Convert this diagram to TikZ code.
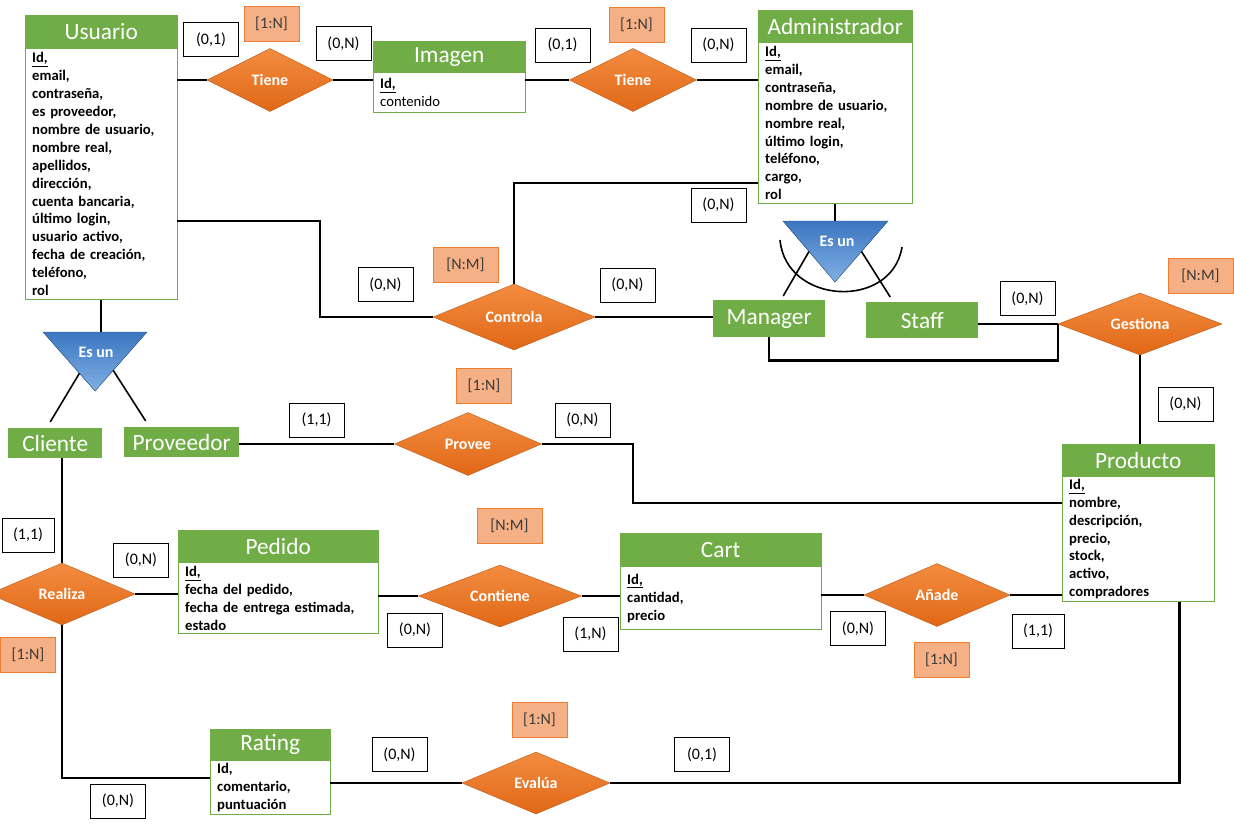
\documentclass[tikz,border=0pt]{standalone}
\usepackage{fontspec}
\setmainfont{Carlito}
\usepackage{tikz}
\usetikzlibrary{shapes.geometric}
\usetikzlibrary{positioning}
\usetikzlibrary{calc}

\definecolor{verde}{RGB}{112,173,71}
\definecolor{naranjaSup}{RGB}{243,140,64}
\definecolor{naranjaInf}{RGB}{224,104,22}
\definecolor{naranjaBorde}{RGB}{190,88,20}
\definecolor{azulSup}{RGB}{60,118,192}
\definecolor{azulInf}{RGB}{128,176,228}
\definecolor{azulBorde}{RGB}{48,90,145}
\definecolor{salmon}{RGB}{245,176,134}
\definecolor{salmonBorde}{RGB}{237,125,49}
\definecolor{gris}{RGB}{60,60,60}

\newcommand{\fuenteAtr}{\fontsize{14.67}{17.9}\selectfont\bfseries}
\newcommand{\fuenteTit}{\fontsize{23.3}{28}\selectfont}
\newcommand{\fuenteRel}{\fontsize{16}{19}\selectfont\bfseries}
\newcommand{\fuenteCard}{\fontsize{16}{19}\selectfont}

\tikzset{
  entidad/.style={draw=verde, fill=verde, text=white, font=\fuenteTit, minimum width=#1, inner sep=0pt, anchor=north west},
  atributos/.style={draw=verde, fill=white, font=\fuenteAtr, align=left, text width=#1, inner xsep=7pt, inner ysep=0pt},
  simple/.style={fill=verde, text=white, font=\fuenteTit, inner sep=0pt, anchor=north west},
  relacion/.style={diamond, aspect=2, draw=naranjaBorde, top color=naranjaSup, bottom color=naranjaInf, text=white, font=\fuenteRel, inner sep=0pt},
  card/.style={draw=black, fill=white, font=\fuenteCard, minimum width=55pt, minimum height=34pt, inner sep=0pt},
  tipo/.style={draw=salmonBorde, fill=salmon, text=gris, font=\fuenteCard, minimum width=#1, minimum height=35pt, inner sep=0pt},
  tipo/.default=55pt,
  linea/.style={line width=2.2pt},
  esun/.style={draw=azulBorde, top color=azulSup, bottom color=azulInf},
  arco/.style={line width=1.6pt},
}

\begin{document}
\begin{tikzpicture}[x=1pt,y=-1pt]
  \fill[white] (0,0) rectangle (1234,835);
  \useasboundingbox (0,0) rectangle (1234,835);
  % entidades
  \node[entidad=152pt, minimum height=33pt] (usuario) at (25,15) {Usuario};
  \node[atributos=138pt, minimum height=251pt, below=0pt of usuario] (usuario-a) {\underline{Id,}\\email,\\contraseña,\\es proveedor,\\nombre de usuario,\\nombre real,\\apellidos,\\dirección,\\cuenta bancaria,\\último login,\\usuario activo,\\fecha de creación,\\teléfono,\\rol};
  \node[entidad=152pt, minimum height=31pt] (imagen) at (373,41) {Imagen};
  \node[atributos=138pt, minimum height=40pt, below=0pt of imagen] (imagen-a) {\underline{Id,}\\{\mdseries contenido}};
  \node[entidad=154pt, minimum height=32pt] (admin) at (758,10) {Administrador};
  \node[atributos=140pt, minimum height=161pt, below=0pt of admin] (admin-a) {\underline{Id,}\\email,\\contraseña,\\nombre de usuario,\\nombre real,\\último login,\\teléfono,\\cargo,\\rol};
  \node[entidad=152pt, minimum height=32pt] (producto) at (1062,444) {Producto};
  \node[atributos=138pt, minimum height=125pt, below=0pt of producto] (producto-a) {\underline{Id,}\\nombre,\\descripción,\\precio,\\stock,\\activo,\\compradores};
  \node[entidad=200pt, minimum height=32pt] (pedido) at (178,530) {Pedido};
  \node[atributos=186pt, minimum height=71pt, below=0pt of pedido] (pedido-a) {\underline{Id,}\\fecha del pedido,\\fecha de entrega estimada,\\estado};
  \node[entidad=201pt, minimum height=33pt] (cart) at (620,533) {Cart};
  \node[atributos=187pt, minimum height=63pt, below=0pt of cart] (cart-a) {\underline{Id,}\\cantidad,\\precio};
  \node[entidad=120pt, minimum height=31pt] (rating) at (210,729) {Rating};
  \node[atributos=106pt, minimum height=54pt, below=0pt of rating] (rating-a) {Id,\\comentario,\\puntuación};
  % subtipos
  \node[simple, minimum width=112pt, minimum height=37pt] (manager) at (713,300) {Manager};
  \node[simple, minimum width=112pt, minimum height=36pt] (staff) at (866,302) {Staff};
  \node[simple, minimum width=94pt, minimum height=30pt] (cliente) at (8,428) {Cliente};
  \node[simple, minimum width=115pt, minimum height=30pt] (proveedor) at (124,427) {Proveedor};
  % relaciones
  \node[relacion, minimum width=126pt, minimum height=63pt] (tiene1) at (270,80) {Tiene};
  \node[relacion, minimum width=127pt, minimum height=63pt] (tiene2) at (633,80) {Tiene};
  \node[relacion, minimum width=162pt, minimum height=66pt] (controla) at (514,317) {Controla};
  \node[relacion, minimum width=164pt, minimum height=62pt] (gestiona) at (1140,324) {Gestiona};
  \node[relacion, minimum width=147pt, minimum height=63pt] (provee) at (468,444) {Provee};
  \node[relacion, minimum width=163pt, minimum height=62pt] (contiene) at (500,596) {Contiene};
  \node[relacion, minimum width=146pt, minimum height=63pt] (anade) at (937,595) {Añade};
  \node[relacion, minimum width=146pt, minimum height=62pt] (realiza) at (62,594) {Realiza};
  \node[relacion, minimum width=148pt, minimum height=62pt] (evalua) at (536,783) {Evalúa};
  % es un (administrador)
  \coordinate (t1a) at (783,221);
  \coordinate (t1b) at (888,221);
  \coordinate (t1c) at (835,282);
  \filldraw[esun] (t1a) -- (t1b) -- (t1c) -- cycle;
  \node[font=\fuenteRel, text=white] (esun1) at (837,241) {Es un};
  \draw[arco] (780,240) .. controls (786,305) and (892,310) .. (902,247);
  % es un (usuario)
  \coordinate (t2a) at (43,332);
  \coordinate (t2b) at (147,332);
  \coordinate (t2c) at (95,391);
  \filldraw[esun] (t2a) -- (t2b) -- (t2c) -- cycle;
  \node[font=\fuenteRel, text=white] (esun2) at (96,352) {Es un};
  % conectores
  \draw[linea] (usuario-a.east |- tiene1.west) -- (tiene1.west);
  \draw[linea] (tiene1.east) -- (tiene1.east -| imagen-a.west);
  \draw[linea] (imagen-a.east |- tiene2.west) -- (tiene2.west);
  \draw[linea] (tiene2.east) -- (tiene2.east -| admin-a.west);
  \draw[linea] ([yshift=21pt]admin-a.south west) -| (controla.north);
  \draw[linea] ([yshift=79pt]usuario-a.south east) -| ([xshift=-113pt]controla.west) -- (controla.west);
  \draw[linea] (controla.east) -- (controla.east -| manager.west);
  \draw[linea] (manager.south) -- ++(0,23) -| (gestiona.west);
  \draw[linea] (staff.east |- gestiona.west) -- (gestiona.west);
  \draw[linea] (gestiona.south) -- (gestiona.south |- producto.north);
  \draw[linea] (admin-a.south) -- (admin-a.south |- t1a);
  \draw[linea] (usuario-a.south) -- (usuario-a.south |- t2a);
  \draw[arco] ($(t1a)!0.5!(t1c)$) -- ([xshift=14pt,yshift=4pt]manager.north);
  \draw[arco] ($(t1b)!0.5!(t1c)$) -- ([xshift=-32pt,yshift=5pt]staff.north);
  \draw[arco] ($(t2a)!0.7!(t2c)$) -- ([xshift=-5pt,yshift=6pt]cliente.north);
  \draw[arco] ($(t2b)!0.65!(t2c)$) -- ([xshift=-36pt,yshift=6pt]proveedor.north);
  \draw[linea] (proveedor.east |- provee.west) -- (provee.west);
  \draw[linea] (provee.east) -- ++(91,0) |- ([yshift=99pt]producto-a.south west);
  \draw[linea] (realiza.north |- cliente.south) -- (realiza.north);
  \draw[linea] (realiza.east) -- (realiza.east -| pedido-a.west);
  \draw[linea] (pedido-a.east |- contiene.west) -- (contiene.west);
  \draw[linea] (contiene.east) -- (contiene.east -| cart-a.west);
  \draw[linea] (cart-a.east |- anade.west) -- (anade.west);
  \draw[linea] (anade.east) -- (anade.east -| producto-a.west);
  \draw[linea] (realiza.south) |- ([yshift=37pt]rating-a.south west);
  \draw[linea] (rating-a.east |- evalua.west) -- (evalua.west);
  \draw[linea] (evalua.east) -| ([xshift=-35pt]producto-a.south east);
  % cardinalidades
  \node[card] (c-tiene1-u) at (211,39.5) {(0,1)};
  \node[tipo] (t-tiene1) at (271.5,23.5) {[1:N]};
  \node[card] (c-tiene1-i) at (343.5,43.5) {(0,N)};
  \node[card] (c-tiene2-i) at (562.5,45) {(0,1)};
  \node[tipo] (t-tiene2) at (636.5,24.5) {[1:N]};
  \node[card] (c-tiene2-a) at (718.5,45) {(0,N)};
  \node[card] (c-controla-a) at (718.5,205) {(0,N)};
  \node[tipo=65pt] (t-controla) at (465.5,264.5) {[N:M]};
  \node[card] (c-controla-m) at (627.5,285) {(0,N)};
  \node[card] (c-controla-u) at (385.5,284.5) {(0,N)};
  \node[card] (c-gestiona-s) at (1027.5,298.5) {(0,N)};
  \node[tipo=65pt] (t-gestiona) at (1200.5,276) {[N:M]};
  \node[card] (c-gestiona-p) at (1185.5,404) {(0,N)};
  \node[tipo] (t-provee) at (484,385.5) {[1:N]};
  \node[card] (c-provee-v) at (316.5,420) {(1,1)};
  \node[card] (c-provee-p) at (582.5,420) {(0,N)};
  \node[card, minimum width=52pt] (c-realiza-c) at (28,535) {(1,1)};
  \node[card] (c-realiza-p) at (141,560) {(0,N)};
  \node[tipo=65pt] (t-contiene) at (509.5,526) {[N:M]};
  \node[card] (c-contiene-p) at (415,630) {(0,N)};
  \node[card] (c-contiene-c) at (590.5,634) {(1,N)};
  \node[card] (c-anade-c) at (858,628.5) {(0,N)};
  \node[card, minimum width=52pt] (c-anade-p) at (1038,631) {(1,1)};
  \node[tipo] (t-anade) at (941.5,660) {[1:N]};
  \node[tipo] (t-realiza) at (28,654.5) {[1:N]};
  \node[card] (c-realiza-r) at (118,801) {(0,N)};
  \node[card] (c-evalua-r) at (399.5,754.5) {(0,N)};
  \node[tipo] (t-evalua) at (539.5,720) {[1:N]};
  \node[card] (c-evalua-p) at (702,754.5) {(0,1)};
\end{tikzpicture}
\end{document}
